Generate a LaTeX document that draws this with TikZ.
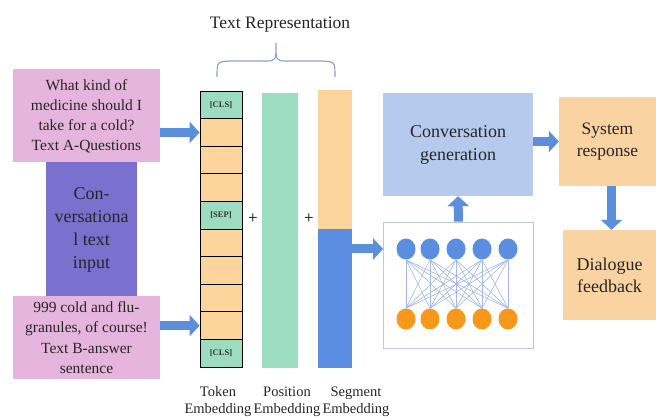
\documentclass[tikz,border=0pt]{standalone}
\usepackage{fontspec}
\setmainfont{Liberation Serif}
\usetikzlibrary{arrows.meta,calc,shapes.geometric}
\definecolor{pinkbox}{HTML}{E6B5DD}
\definecolor{purplebox}{HTML}{7A70CE}
\definecolor{convblue}{HTML}{B5CAEC}
\definecolor{orangebox}{HTML}{FAD3A2}
\definecolor{tokorange}{HTML}{FDD59C}
\definecolor{embgreen}{HTML}{9CDCC0}
\definecolor{segblue}{HTML}{5B8DE2}
\definecolor{arrowblue}{HTML}{5B8FDB}
\definecolor{circblue}{HTML}{5B8EE0}
\definecolor{circorange}{HTML}{F7981A}
\definecolor{linkblue}{HTML}{A3B8E6}
\definecolor{bracecol}{HTML}{8AA3C8}
\definecolor{nnborder}{HTML}{B8C8E6}
\begin{document}
\begin{tikzpicture}[x=1pt,y=-1pt,
  box/.style={draw=none,inner sep=0pt,align=center,text=black!85},
  cell/.style={draw=black,line width=0.8pt,minimum width=42pt,minimum height=27.6pt,inner sep=0pt,font=\bfseries\fontsize{8.5}{9}\selectfont,text=black!80},
  bigarrow/.style={draw=arrowblue,line width=9pt,-{Triangle[length=10pt,width=21pt]}},
  nnlink/.style={draw=linkblue,line width=0.6pt},
  bcirc/.style={ellipse,fill=circblue,minimum width=19pt,minimum height=21pt,inner sep=0pt},
  ocirc/.style={ellipse,fill=circorange,minimum width=19pt,minimum height=21pt,inner sep=0pt},
  lbl/.style={align=center,font=\fontsize{14.5}{17}\selectfont,text=black!85}
]
\useasboundingbox (0,0) rectangle (656,419);
\fill[white] (0,0) rectangle (656,419);

% left input boxes
\node[box,fill=purplebox,minimum width=91pt,minimum height=135pt,font=\fontsize{18}{23}\selectfont] (conv) at (91.5,229.5) {Con-\\versationa\\l text\\input};
\node[box,fill=pinkbox,minimum width=147pt,minimum height=93pt,font=\fontsize{15.5}{20}\selectfont] (qa) at (86.5,116) {What kind of\\medicine should I\\take for a cold?\\Text A-Questions};
\node[box,fill=pinkbox,minimum width=147pt,minimum height=83pt,font=\fontsize{15.5}{20.5}\selectfont] (qb) at (86.5,337.5) {999 cold and flu-\\granules, of course!\\Text B-answer\\sentence};

% token embedding column
\foreach \i/\t/\c in {0/{[CLS]}/embgreen,1//tokorange,2//tokorange,3//tokorange,4/{[SEP]}/embgreen,5//tokorange,6//tokorange,7//tokorange,8//tokorange,9/{[CLS]}/embgreen}{
  \node[cell,fill=\c] (c\i) at (221,{91+13.8+27.6*\i}) {\t};
}
% position embedding
\node[box,fill=embgreen,minimum width=36pt,minimum height=275pt] (pos) at (280,230.5) {};
% segment embedding
\node[box,fill=tokorange,minimum width=34pt,minimum height=139pt] (segA) at (335,159.5) {};
\node[box,fill=segblue,minimum width=34pt,minimum height=139pt] (segB) at (335,298.5) {};
\node[font=\fontsize{17}{17}\selectfont] (plus1) at (253,219) {+};
\node[font=\fontsize{17}{17}\selectfont] (plus2) at (309,219) {+};

% brace and title
\draw[bracecol,line width=1.1pt] (217,77) .. controls (217,62) .. (229,61) -- (265,61) .. controls (276,61) .. (276,43) .. controls (276,61) .. (287,61) -- (323,61) .. controls (335,62) .. (335,77);
\node[font=\fontsize{17.5}{20}\selectfont,text=black!85] (title) at (280,25) {Text Representation};

% labels
\node[lbl] (ltok) at (218,402) {Token\\Embedding};
\node[lbl] (lpos) at (287,402) {Position\\Embedding};
\node[lbl] (lseg) at (356,402) {Segment\\Embedding};

% neural network box
\node[draw=nnborder,line width=0.8pt,fill=white,minimum width=150pt,minimum height=126pt,inner sep=0pt] (nn) at (458.5,285) {};
\foreach \j/\x in {1/406,2/430,3/456,4/482,5/508}{
  \node[bcirc] (b\j) at (\x,249) {};
  \node[ocirc] (o\j) at (\x,319) {};
}
\foreach \j in {1,...,5}{
  \foreach \k in {1,...,5}{
    \draw[nnlink] (b\j.south) -- (o\k.north);
  }
}

% right boxes
\node[box,fill=convblue,minimum width=150pt,minimum height=103pt,font=\fontsize{18}{23}\selectfont] (gen) at (458,144.5) {Conversation\\generation};
\node[box,fill=orangebox,minimum width=97pt,minimum height=89pt,font=\fontsize{17.5}{22}\selectfont] (sys) at (607.5,141.5) {System\\response};
\node[box,fill=orangebox,minimum width=93pt,minimum height=90pt,font=\fontsize{18}{22}\selectfont] (dlg) at (609.5,275) {Dialogue\\feedback};

% arrows
\draw[bigarrow] (qa.east |- c1) -- (c1.west);
\draw[bigarrow] (qb.east |- c8) -- (c8.west);
\draw[bigarrow] (segB.east |- b1) -- (nn.west |- b1);
\draw[bigarrow] (nn.north) -- (gen.south);
\draw[bigarrow] (gen.east |- sys) -- (sys.west);
\draw[bigarrow] ([xshift=4pt]sys.south) -- ([xshift=4pt]sys.south |- dlg.north);
\end{tikzpicture}
\end{document}
